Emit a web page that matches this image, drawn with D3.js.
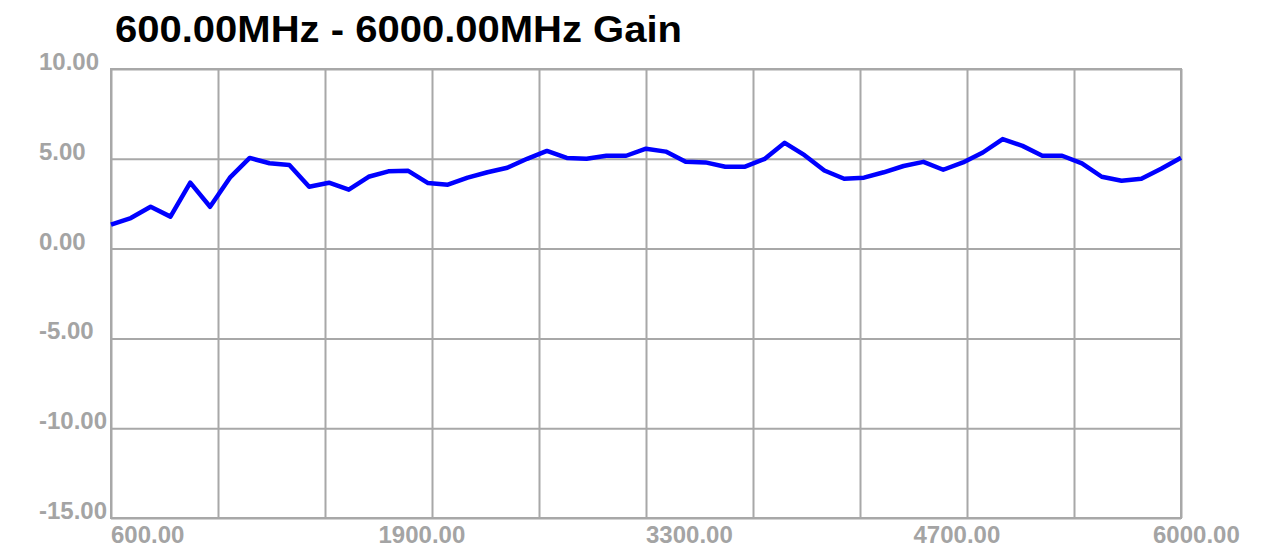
<!DOCTYPE html>
<html>
<head>
<meta charset="utf-8">
<script src="https://cdn.jsdelivr.net/npm/d3@7"></script>
<style>
  body { margin: 0; background: #fff; }
  svg { display: block; }
  .grid line { stroke: #a8a8a8; stroke-width: 2; }
  .grid path { display: none; }
  .lbl { font-family: "Liberation Sans", Arial, sans-serif; font-size: 24px; font-weight: bold; fill: #a4a4a4; }
</style>
</head>
<body>
<svg width="1282" height="549"></svg>
<script>
var title = "600.00MHz - 6000.00MHz Gain";

// frequency in MHz, 100 MHz steps
var freqs = d3.range(600, 6001, 100);
var gain = [1.33, 1.7, 2.33, 1.78, 3.67, 2.33, 3.95, 5.05, 4.75, 4.65,
            3.44, 3.67, 3.28, 4.0, 4.3, 4.33, 3.65, 3.56, 3.95, 4.25,
            4.5, 5.0, 5.44, 5.05, 5.0, 5.17, 5.17, 5.56, 5.4, 4.83,
            4.8, 4.56, 4.56, 5.0, 5.89, 5.2, 4.35, 3.89, 3.95, 4.25,
            4.6, 4.83, 4.39, 4.8, 5.35, 6.1, 5.72, 5.17, 5.17, 4.75,
            4.0, 3.78, 3.89, 4.45, 5.06];

var yTicks = [10, 5, 0, -5, -10, -15];
var yTickLabels = ["10.00", "5.00", "0.00", "-5.00", "-10.00", "-15.00"];
var xTicks = [600, 1950, 3300, 4650, 6000];
var xTickLabels = ["600.00", "1900.00", "3300.00", "4700.00", "6000.00"];

var margin = {left: 111, top: 69},
    width = 1070,
    height = 449;

var svg = d3.select("svg");
var g = svg.append("g")
    .attr("transform", "translate(" + margin.left + "," + margin.top + ")");

var x = d3.scaleLinear().domain([600, 6000]).range([0, width]);
var y = d3.scaleLinear().domain([-15, 10]).range([height, 0]);

// vertical grid, 10 divisions
g.append("g")
  .attr("class", "grid")
  .attr("transform", "translate(0," + height + ")")
  .call(d3.axisBottom(x).tickValues(d3.range(600, 6001, 540)).tickSize(height).tickFormat(""))
  .selectAll("line").attr("y2", -height);

g.append("g")
  .attr("class", "grid")
  .call(d3.axisLeft(y).tickValues(yTicks).tickSize(-width).tickFormat(""));

// frame
g.append("rect")
  .attr("width", width)
  .attr("height", height)
  .attr("fill", "none")
  .attr("stroke", "#a8a8a8")
  .attr("stroke-width", 2);

var line = d3.line()
  .x(function(d, i) { return x(freqs[i]); })
  .y(function(d) { return y(d); });

g.append("path")
  .datum(gain)
  .attr("d", line)
  .attr("fill", "none")
  .attr("stroke", "#0000ff")
  .attr("stroke-width", 4.5)
  .attr("stroke-linejoin", "round");

// y labels, left aligned, sitting on the grid line
svg.selectAll(".ylbl")
  .data(yTicks)
  .enter().append("text")
    .attr("class", "lbl")
    .attr("x", 39)
    .attr("y", function(d) { return margin.top + y(d) + 1; })
    .text(function(d, i) { return yTickLabels[i]; });

svg.selectAll(".xlbl")
  .data(xTicks)
  .enter().append("text")
    .attr("class", "lbl")
    .attr("x", function(d, i) { return margin.left + x(d) + (i == xTicks.length - 1 ? -28 : 0); })
    .attr("y", margin.top + height + 25)
    .text(function(d, i) { return xTickLabels[i]; });

svg.append("text")
  .attr("x", 115)
  .attr("y", 42)
  .attr("font-family", "Liberation Sans, Arial, sans-serif")
  .attr("font-weight", "bold")
  .attr("font-size", 37)
  .attr("textLength", 567)
  .attr("lengthAdjust", "spacingAndGlyphs")
  .attr("fill", "#000")
  .text(title);
</script>
</body>
</html>
